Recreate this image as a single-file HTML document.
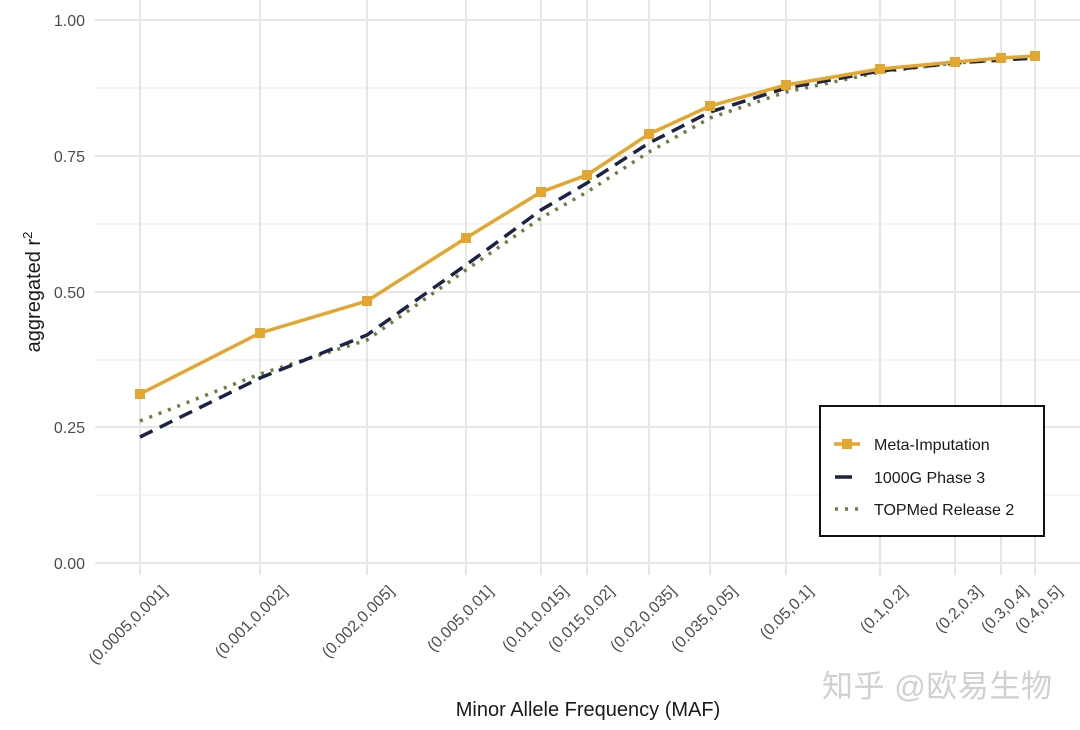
<!DOCTYPE html>
<html><head><meta charset="utf-8"><style>body{margin:0;background:#fff}svg{display:block}</style></head><body>
<svg width="1080" height="730" xmlns="http://www.w3.org/2000/svg" font-family="Liberation Sans, sans-serif">
<g stroke="#ebebeb" stroke-width="1">
<line x1="95" x2="1080" y1="88" y2="88"/><line x1="95" x2="1080" y1="224" y2="224"/><line x1="95" x2="1080" y1="360" y2="360"/><line x1="95" x2="1080" y1="495" y2="495"/>
</g>
<g stroke="#e6e6e6" stroke-width="2">
<line x1="95" x2="1080" y1="20" y2="20"/><line x1="95" x2="1080" y1="156" y2="156"/><line x1="95" x2="1080" y1="292" y2="292"/><line x1="95" x2="1080" y1="427" y2="427"/><line x1="95" x2="1080" y1="563" y2="563"/>
<line x1="140" x2="140" y1="0" y2="575"/><line x1="260" x2="260" y1="0" y2="575"/><line x1="367" x2="367" y1="0" y2="575"/><line x1="466" x2="466" y1="0" y2="575"/><line x1="541" x2="541" y1="0" y2="575"/><line x1="587" x2="587" y1="0" y2="575"/><line x1="649" x2="649" y1="0" y2="575"/><line x1="710" x2="710" y1="0" y2="575"/><line x1="786" x2="786" y1="0" y2="575"/><line x1="880" x2="880" y1="0" y2="575"/><line x1="955" x2="955" y1="0" y2="575"/><line x1="1001" x2="1001" y1="0" y2="575"/><line x1="1035" x2="1035" y1="0" y2="575"/>
</g>
<g font-size="16" fill="#4d4d4d" text-anchor="end">
<text x="85" y="26">1.00</text><text x="85" y="162">0.75</text><text x="85" y="298">0.50</text><text x="85" y="433">0.25</text><text x="85" y="569">0.00</text>
</g>
<g font-size="16" fill="#4d4d4d" text-anchor="end">
<text transform="translate(168,592) rotate(-45)">(0.0005,0.001]</text>
<text transform="translate(288,592) rotate(-45)">(0.001,0.002]</text>
<text transform="translate(395,592) rotate(-45)">(0.002,0.005]</text>
<text transform="translate(494,592) rotate(-45)">(0.005,0.01]</text>
<text transform="translate(569,592) rotate(-45)">(0.01,0.015]</text>
<text transform="translate(615,592) rotate(-45)">(0.015,0.02]</text>
<text transform="translate(677,592) rotate(-45)">(0.02,0.035]</text>
<text transform="translate(738,592) rotate(-45)">(0.035,0.05]</text>
<text transform="translate(814,592) rotate(-45)">(0.05,0.1]</text>
<text transform="translate(908,592) rotate(-45)">(0.1,0.2]</text>
<text transform="translate(983,592) rotate(-45)">(0.2,0.3]</text>
<text transform="translate(1029,592) rotate(-45)">(0.3,0.4]</text>
<text transform="translate(1063,592) rotate(-45)">(0.4,0.5]</text>
</g>
<text x="588" y="716" font-size="20" text-anchor="middle" fill="#1a1a1a">Minor Allele Frequency (MAF)</text>
<text transform="translate(40,292) rotate(-90)" font-size="20" text-anchor="middle" fill="#1a1a1a">aggregated r<tspan font-size="13" dy="-8">2</tspan></text>
<polyline fill="none" stroke="#6b7f3a" stroke-width="3.5" stroke-dasharray="3,7" points="140,421 260,374 367,340 466,270 541,218 587,192 649,152 710,118 786,92 880,72 955,63 1001,60 1035,58"/>
<polyline fill="none" stroke="#1b2447" stroke-width="3.5" stroke-dasharray="14,8" points="140,437 260,378 367,335 466,265 541,210 587,183 649,143 710,112 786,88 880,71 955,63 1001,60 1035,58"/>
<polyline fill="none" stroke="#e3a72f" stroke-width="3.5" points="140,394 260,333 367,301 466,238 541,192 587,175 649,134 710,106 786,85 880,69 955,62 1001,58 1035,56"/>
<g fill="#e3a72f">
<rect x="135" y="389" width="10" height="10"/><rect x="255" y="328" width="10" height="10"/><rect x="362" y="296" width="10" height="10"/><rect x="461" y="233" width="10" height="10"/><rect x="536" y="187" width="10" height="10"/><rect x="582" y="170" width="10" height="10"/><rect x="644" y="129" width="10" height="10"/><rect x="705" y="101" width="10" height="10"/><rect x="781" y="80" width="10" height="10"/><rect x="875" y="64" width="10" height="10"/><rect x="950" y="57" width="10" height="10"/><rect x="996" y="53" width="10" height="10"/><rect x="1030" y="51" width="10" height="10"/>
</g>
<rect x="820" y="406" width="224" height="130" fill="#fff" stroke="#111" stroke-width="2"/>
<line x1="834" x2="860" y1="444" y2="444" stroke="#e3a72f" stroke-width="3.5"/><rect x="842" y="439" width="10" height="10" fill="#e3a72f"/>
<line x1="835" x2="852" y1="477" y2="477" stroke="#1b2447" stroke-width="3.5"/>
<line x1="835" x2="860" y1="509" y2="509" stroke="#6b7f3a" stroke-width="3.5" stroke-dasharray="3,7"/>
<g font-size="16" fill="#1a1a1a"><text x="874" y="450">Meta-Imputation</text><text x="874" y="483">1000G Phase 3</text><text x="874" y="515">TOPMed Release 2</text></g>
<text x="822" y="697" font-size="31" fill="#d0d0d0" textLength="230" font-family="Liberation Sans, Noto Sans CJK SC, sans-serif">知乎 @欧易生物</text>
</svg>
</body></html>
